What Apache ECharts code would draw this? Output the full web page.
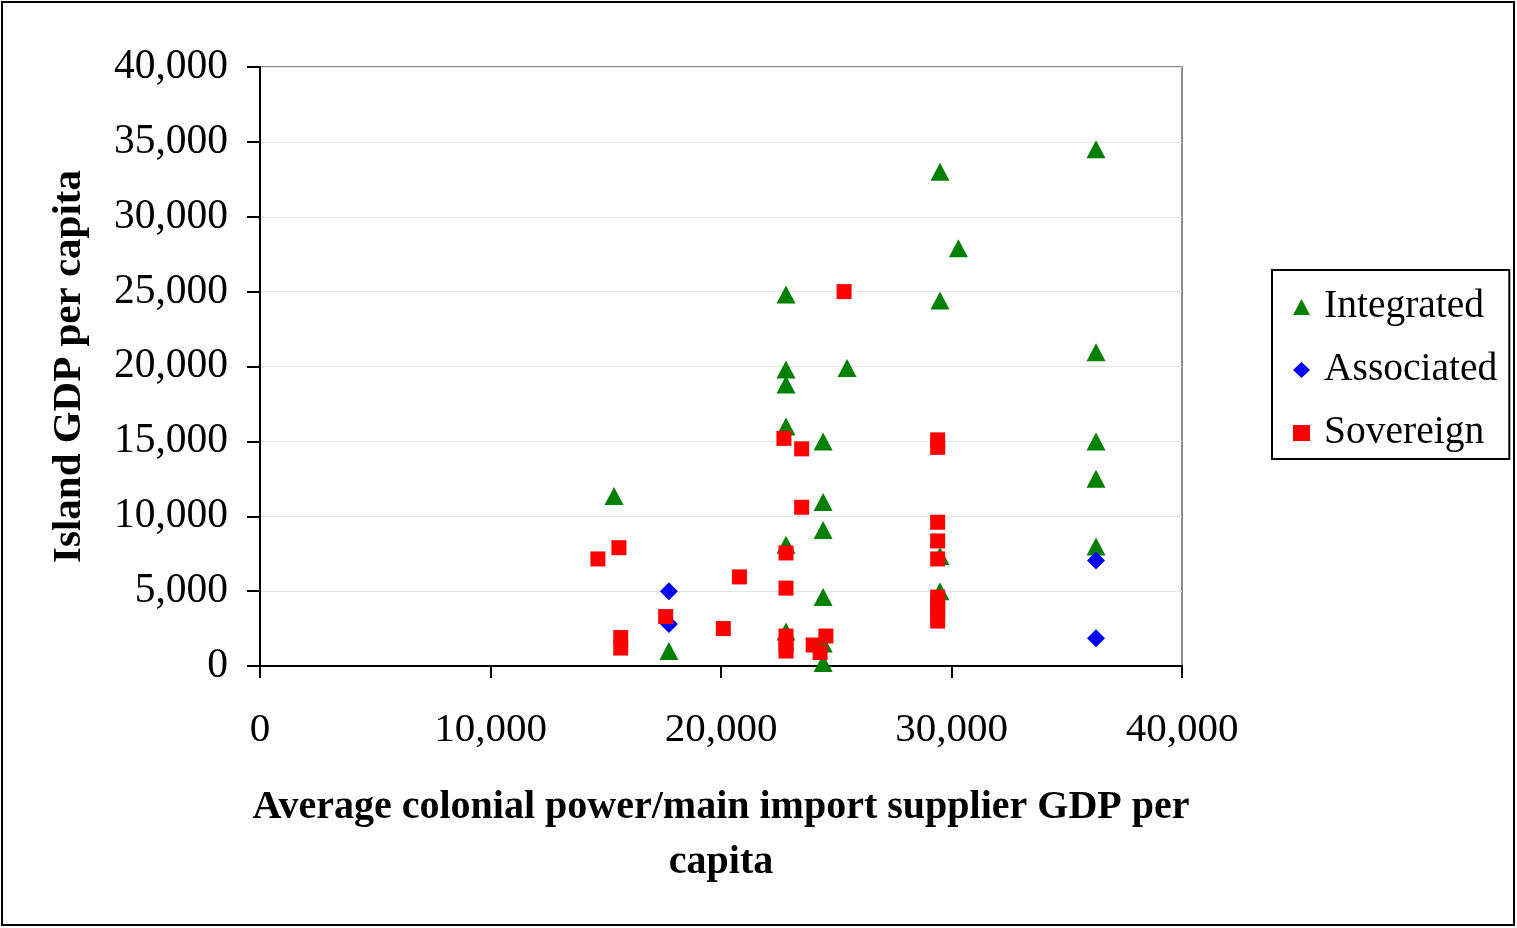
<!DOCTYPE html>
<html>
<head>
<meta charset="utf-8">
<script src="https://cdn.jsdelivr.net/npm/echarts@6/dist/echarts.min.js"></script>
<style>html,body{margin:0;padding:0;background:#fff;}#c{width:1517px;height:928px;}</style>
</head>
<body>
<div id="c"></div>
<script>
var seriesNames = ['Integrated', 'Associated', 'Sovereign'];
var xTicks = [0, 10000, 20000, 30000, 40000];
var yTicks = [0, 5000, 10000, 15000, 20000, 25000, 30000, 35000, 40000];

var integrated = [
  [15360, 11350], [17740, 1000], [22820, 24800], [22820, 19800], [22820, 18800],
  [22820, 16000], [22820, 8100], [22820, 2300], [24430, 15000], [24430, 10950],
  [24430, 9080], [24430, 4600], [24430, 1500], [24430, 200], [25470, 19900],
  [29500, 33000], [29500, 24400], [29500, 7350], [29500, 5000], [30300, 27900],
  [36270, 34500], [36270, 20950], [36270, 15000], [36270, 12500], [36270, 7980]
];
var associated = [
  [17740, 5000], [17740, 2800], [36270, 7050], [36270, 1850]
];
var sovereign = [
  [14660, 7150], [15570, 7900], [15650, 1900], [15650, 1200], [17600, 3300],
  [20100, 2500], [20800, 5950], [22730, 15200], [22820, 7550], [22820, 5200],
  [22820, 2000], [22820, 1400], [22820, 1000], [23500, 14500], [23500, 10600],
  [24000, 1400], [24300, 900], [24550, 2000], [25340, 25000], [29400, 15100],
  [29400, 14600], [29400, 9600], [29400, 8350], [29400, 7150], [29400, 4600],
  [29400, 4100], [29400, 3600], [29400, 3000]
];

var fmt = function (v) { return v.toLocaleString('en-US'); };
var serif = '"Liberation Serif", "Times New Roman", serif';

var chart = echarts.init(document.getElementById('c'), null, {renderer: 'canvas'});
chart.setOption({
  animation: false,
  backgroundColor: '#fff',
  textStyle: {fontFamily: serif},
  graphic: [{
    type: 'rect',
    shape: {x: 2, y: 2, width: 1512, height: 923},
    style: {fill: 'none', stroke: '#000', lineWidth: 2},
    silent: true
  }],
  grid: {
    left: 260, right: 335, top: 67, bottom: 262,
    show: true, borderColor: '#8c8c8c', borderWidth: 2, backgroundColor: 'transparent'
  },
  legend: {
    orient: 'vertical',
    left: 1272, top: 270,
    data: [
      {name: seriesNames[0], icon: 'triangle'},
      {name: seriesNames[1], icon: 'diamond'},
      {name: seriesNames[2], icon: 'rect'}
    ],
    itemWidth: 17, itemHeight: 16,
    itemGap: 23,
    padding: [17, 12, 6, 21],
    borderColor: '#000', borderWidth: 2,
    textStyle: {fontFamily: serif, fontSize: 39.5, color: '#000', lineHeight: 40, padding: [0, 0, 0, 9]}
  },
  xAxis: {
    type: 'value', min: 0, max: 40000, interval: 10000,
    axisLine: {show: true, lineStyle: {color: '#000', width: 2}},
    axisTick: {show: true, length: 12, lineStyle: {color: '#000', width: 2}},
    axisLabel: {fontFamily: serif, fontSize: 41, color: '#000', margin: 44, formatter: fmt},
    splitLine: {show: false},
    name: 'Average colonial power/main import supplier GDP per\ncapita',
    nameLocation: 'middle', nameGap: 114,
    nameTextStyle: {fontFamily: serif, fontSize: 40, fontWeight: 'bold', color: '#000', lineHeight: 55}
  },
  yAxis: {
    type: 'value', min: 0, max: 40000, interval: 5000,
    axisLine: {show: true, lineStyle: {color: '#000', width: 2}},
    axisTick: {show: true, length: 13, lineStyle: {color: '#000', width: 2}},
    axisLabel: {fontFamily: serif, fontSize: 41.5, color: '#000', margin: 32, formatter: fmt},
    splitLine: {show: true, lineStyle: {color: '#e4e4e4', width: 1}},
    name: 'Island GDP per capita',
    nameLocation: 'middle', nameGap: 170,
    nameTextStyle: {fontFamily: serif, fontSize: 41, fontWeight: 'bold', color: '#000'}
  },
  series: [
    {name: seriesNames[0], type: 'scatter', data: integrated, symbol: 'triangle', symbolSize: [19, 18],
     itemStyle: {color: '#008000', opacity: 1}, z: 2},
    {name: seriesNames[1], type: 'scatter', data: associated, symbol: 'diamond', symbolSize: [18, 18],
     itemStyle: {color: '#0000ff', opacity: 1}, z: 3},
    {name: seriesNames[2], type: 'scatter', data: sovereign, symbol: 'rect', symbolSize: [15, 15],
     itemStyle: {color: '#ff0000', opacity: 1}, z: 4}
  ]
});
</script>
</body>
</html>
